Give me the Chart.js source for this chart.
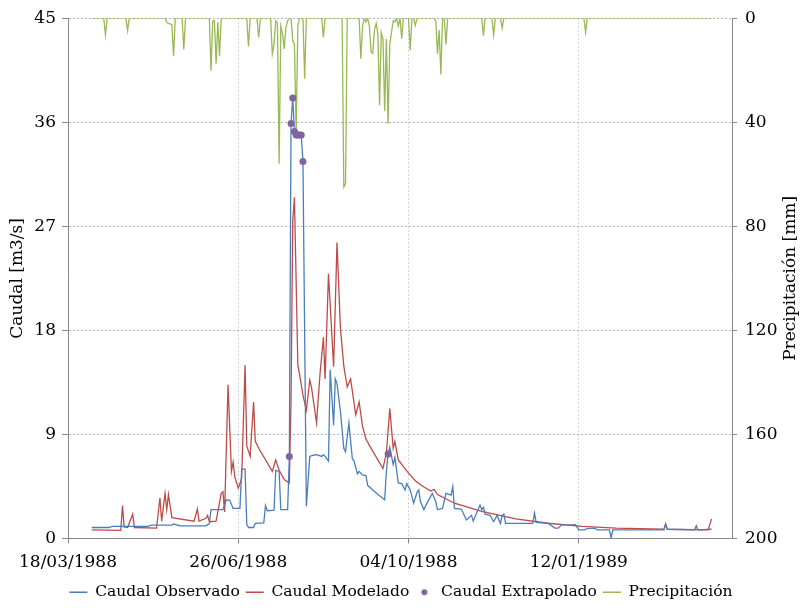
<!DOCTYPE html>
<html>
<head>
<meta charset="utf-8">
<script src="https://cdn.jsdelivr.net/npm/chart.js@4.4.1/dist/chart.umd.min.js"></script>
<style>
  html, body { margin: 0; padding: 0; background: #fff; }
  #wrap { width: 802px; height: 610px; }
</style>
</head>
<body>
<div id="wrap"><canvas id="caudalChart" width="802" height="610"></canvas></div>
<script>
// dias contados desde el 01/04/1988 (inicio del registro)
const obsDay = [
  0, 10, 12, 33, 35, 47, 48, 52, 67, 68,
  69, 70, 77, 79, 81, 83, 87, 88, 90, 91,
  92, 95, 96, 101, 102, 103, 107, 108, 110, 111,
  115, 116, 117, 118, 119, 120, 121, 122, 123, 124,
  126, 128, 130, 132, 135, 136, 137, 139, 140, 142,
  143, 144, 146, 148, 149, 151, 153, 154, 156, 157,
  159, 161, 162, 165, 168, 172, 173, 174, 175, 177,
  178, 180, 182, 184, 185, 187, 189, 191, 192, 193,
  195, 197, 200, 202, 203, 206, 208, 211, 212, 213,
  217, 220, 223, 224, 226, 228, 229, 230, 231, 234,
  236, 238, 240, 241, 242, 243, 259, 260, 261, 268,
  272, 274, 276, 280, 284, 286, 289, 291, 295, 297,
  304, 305, 306, 336, 337, 338, 354, 355, 356, 364
]
const obsQ = [
  0.95, 0.95, 1.05, 1.05, 1.15, 1.15, 1.25, 1.1, 1.1, 1.2,
  1.25, 2.5, 2.5, 3.35, 3.3, 2.6, 2.6, 6.0, 6.0, 1.2,
  0.95, 0.95, 1.3, 1.35, 2.85, 2.4, 2.45, 5.9, 5.8, 2.5,
  2.5, 7.1, 35.9, 38.1, 35.2, 34.9, 34.9, 34.9, 34.9, 32.6,
  2.8, 7.1, 7.2, 7.25, 7.1, 7.25, 7.1, 6.7, 14.6, 9.8,
  13.8, 13.4, 11.0, 7.8, 7.5, 10.0, 6.9, 6.7, 5.6, 5.8,
  5.5, 5.45, 4.6, 4.2, 3.8, 3.35, 5.8, 7.3, 7.9, 6.4,
  7.0, 4.8, 4.75, 4.2, 4.75, 4.2, 3.05, 4.0, 4.2, 3.2,
  2.5, 3.1, 3.9, 3.2, 2.5, 2.6, 3.9, 3.75, 4.5, 2.6,
  2.55, 1.6, 2.0, 1.5, 2.2, 2.9, 2.5, 2.7, 2.1, 2.0,
  1.45, 2.0, 1.3, 2.0, 2.1, 1.3, 1.3, 2.2, 1.4, 1.3,
  0.9, 0.9, 1.2, 1.15, 1.2, 0.75, 0.75, 0.85, 0.9, 0.75,
  0.75, 0.05, 0.75, 0.75, 1.25, 0.8, 0.75, 1.1, 0.75, 0.8
]

const modDay = [
  0, 17, 18, 19, 21, 24, 25, 38, 40, 41,
  43, 44, 45, 47, 60, 62, 63, 67, 68, 69,
  73, 76, 77, 78, 80, 82, 83, 84, 86, 88,
  90, 91, 93, 95, 96, 98, 106, 108, 110, 113,
  116, 117, 118, 119, 121, 122, 124, 126, 128, 129,
  132, 134, 136, 137, 139, 142, 144, 146, 148, 150,
  152, 155, 157, 159, 161, 164, 171, 173, 175, 177,
  178, 180, 186, 190, 193, 199, 201, 203, 213, 229,
  249, 268, 288, 308, 336, 337, 338, 362, 364
]
const modQ = [
  0.75, 0.7, 2.85, 1.0, 0.95, 2.1, 0.95, 0.9, 3.5, 1.5,
  3.9, 2.5, 3.8, 1.8, 1.5, 2.55, 1.5, 1.75, 2.0, 1.45,
  1.5, 3.9, 4.05, 2.3, 13.3, 5.8, 6.6, 5.3, 4.35, 5.2,
  15.0, 8.0, 7.1, 11.8, 8.4, 7.8, 5.8, 6.8, 5.9, 5.1,
  4.8, 12.0, 27.5, 29.5, 15.0, 14.2, 12.4, 11.1, 13.7, 13.1,
  10.0, 14.2, 17.4, 13.8, 22.9, 14.85, 25.6, 18.2, 14.9, 13.1,
  13.8, 10.7, 11.8, 9.7, 8.6, 7.8, 6.05, 7.4, 11.25, 7.8,
  8.4, 6.8, 5.65, 5.0, 4.65, 4.1, 4.25, 3.8, 3.05, 2.35,
  1.7, 1.32, 1.04, 0.9, 0.8, 1.24, 0.8, 0.75, 1.7
]

const extDay = [116, 117, 118, 119, 120, 121, 122, 123, 124, 174]
const extQ = [7.1, 35.9, 38.1, 35.2, 34.9, 34.9, 34.9, 34.9, 32.6, 7.3]

const rainDay = [
  0, 7, 8, 9, 20, 21, 22, 43, 44, 45,
  46, 47, 48, 49, 53, 54, 55, 69, 70, 71,
  72, 73, 74, 75, 76, 91, 92, 93, 97, 98,
  99, 105, 106, 107, 108, 109, 110, 111, 112, 113,
  114, 115, 116, 117, 118, 119, 120, 121, 122, 124,
  125, 126, 135, 136, 137, 147, 148, 149, 150, 157,
  158, 159, 160, 161, 162, 163, 164, 165, 166, 167,
  168, 169, 170, 171, 172, 173, 174, 175, 176, 177,
  178, 179, 180, 181, 182, 183, 186, 187, 188, 189,
  190, 191, 201, 202, 203, 204, 205, 206, 207, 208,
  209, 229, 230, 231, 235, 236, 237, 240, 241, 242,
  289, 290, 291, 364
]
const rainMm = [
  0, 0, 6.4, 0, 0, 4.7, 0, 0, 1.5, 2.0,
  2.2, 2.5, 14.6, 0, 0, 12.0, 0, 0, 20.2, 1,
  1, 17.5, 1.5, 14.6, 0, 0, 10.9, 0, 0, 7.3,
  0, 0, 13.7, 10.1, 1, 2, 55.9, 3, 6, 11.8,
  3.5, 1, 0, 0, 8.6, 10, 43.8, 3, 0, 0,
  23.3, 0, 0, 7.3, 0, 0, 64.9, 63.7, 0, 0,
  15.6, 3, 0, 1.5, 0, 3, 13, 13.5, 4.5, 2,
  6, 33.5, 5.5, 8, 35.7, 8, 40.6, 10, 5.5, 1,
  1.5, 0, 3, 0, 7.9, 0, 0, 12.3, 0, 0,
  2.8, 0, 0, 1, 13.7, 4.5, 21.6, 0, 0, 10.1,
  0, 0, 6.7, 0, 0, 6.4, 0, 0, 3.8, 0,
  0, 5.4, 0, 0
]

// eje de fechas: dias desde el 18/03/1988
const OFFSET = 14
const xTicks = [0, 100, 200, 300]
const dateLabels = ['18/03/1988', '26/06/1988', '04/10/1988', '12/01/1989']
const qTicks = [0, 9, 18, 27, 36, 45]
const pTicks = [0, 40, 80, 120, 160, 200]

const fontFamily = "'DejaVu Serif', serif"
Chart.defaults.font.family = fontFamily
Chart.defaults.font.size = 17
Chart.defaults.color = '#000'

const pts = (days, vals) => days.map((d, i) => ({ x: d + OFFSET, y: vals[i] }))
const fixTicks = list => scale => { scale.ticks = list.map(v => ({ value: v })) }

// punto morado para la leyenda
const dot = document.createElement('canvas')
dot.width = 9
dot.height = 9
const dctx = dot.getContext('2d')
dctx.fillStyle = '#8064a2'
dctx.beginPath()
dctx.arc(4.5, 4.5, 3, 0, Math.PI * 2)
dctx.fill()

const rightTitle = {
  id: 'rightTitle',
  afterDraw (chart) {
    const { ctx, chartArea } = chart
    ctx.save()
    ctx.translate(791, (chartArea.top + chartArea.bottom) / 2)
    ctx.rotate(-Math.PI / 2)
    ctx.font = '17px ' + fontFamily
    ctx.fillStyle = '#000'
    ctx.textAlign = 'center'
    ctx.textBaseline = 'middle'
    ctx.fillText('Precipitación [mm]', 0, 0)
    ctx.restore()
  }
}

new Chart(document.getElementById('caudalChart'), {
  type: 'line',
  data: {
    datasets: [
      {
        label: 'Caudal Observado',
        data: pts(obsDay, obsQ),
        borderColor: '#4a7ebb',
        backgroundColor: '#4a7ebb',
        borderWidth: 1.3,
        pointRadius: 0,
        pointStyle: 'line',
        yAxisID: 'y',
        order: 2
      },
      {
        label: 'Caudal Modelado',
        data: pts(modDay, modQ),
        borderColor: '#be4b48',
        backgroundColor: '#be4b48',
        borderWidth: 1.3,
        pointRadius: 0,
        pointStyle: 'line',
        yAxisID: 'y',
        order: 3
      },
      {
        label: 'Caudal Extrapolado',
        data: pts(extDay, extQ),
        showLine: false,
        borderColor: '#8064a2',
        backgroundColor: '#8064a2',
        pointRadius: 3.5,
        pointBorderWidth: 0,
        pointStyle: 'circle',
        yAxisID: 'y',
        order: 0
      },
      {
        label: 'Precipitación',
        data: pts(rainDay, rainMm),
        borderColor: '#98b954',
        backgroundColor: '#98b954',
        borderWidth: 1.3,
        pointRadius: 0,
        pointStyle: 'line',
        yAxisID: 'y2',
        order: 1
      }
    ]
  },
  options: {
    responsive: false,
    animation: false,
    layout: { padding: { top: 16, left: 0, right: 0, bottom: 0 } },
    elements: { line: { tension: 0 } },
    plugins: {
      tooltip: { enabled: false },
      legend: {
        position: 'bottom',
        labels: {
          usePointStyle: true,
          pointStyleWidth: 18,
          padding: 6,
          font: { size: 15.5 },
          sort: (a, b) => a.datasetIndex - b.datasetIndex,
          generateLabels (chart) {
            const items = Chart.defaults.plugins.legend.labels.generateLabels(chart)
            items.forEach(it => { if (it.datasetIndex === 2) it.pointStyle = dot })
            return items
          }
        }
      }
    },
    scales: {
      x: {
        type: 'linear',
        min: 0,
        max: 390,
        afterBuildTicks: fixTicks(xTicks),
        afterFit: scale => { scale.height = 40 },
        ticks: {
          maxRotation: 0,
          padding: 9,
          callback: v => dateLabels[xTicks.indexOf(v)] || ''
        },
        grid: { color: '#d0d0d0', tickColor: '#888', tickLength: 5 },
        border: { color: '#888', dash: [2, 2] }
      },
      y: {
        position: 'left',
        min: 0,
        max: 45,
        afterBuildTicks: fixTicks(qTicks),
        afterFit: scale => { scale.width = 68 },
        ticks: { padding: 6 },
        title: { display: true, text: 'Caudal [m3/s]', padding: { top: 7, bottom: 0 } },
        grid: { color: '#b4b4b4', tickColor: '#888', tickLength: 6 },
        border: { color: '#888', dash: [2, 2] }
      },
      y2: {
        position: 'right',
        min: 0,
        max: 200,
        reverse: true,
        afterBuildTicks: fixTicks(pTicks),
        afterFit: scale => { scale.width = 70 },
        ticks: { padding: 8 },
        grid: { drawOnChartArea: false, tickColor: '#888', tickLength: 5 },
        border: { color: '#888' }
      }
    }
  },
  plugins: [rightTitle]
})
</script>
</body>
</html>
